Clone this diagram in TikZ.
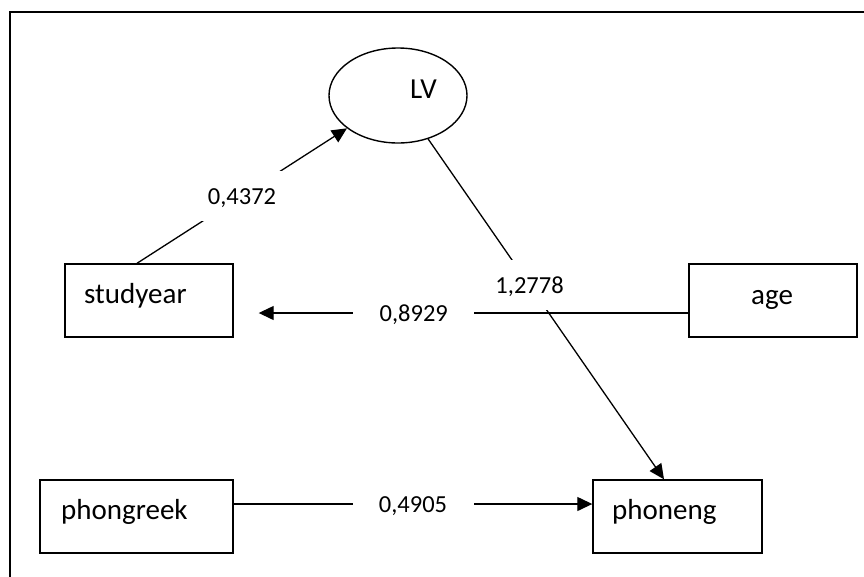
\documentclass[tikz,border=0pt]{standalone}
\usepackage{fontspec}
\setmainfont{Carlito}
\usetikzlibrary{arrows.meta,calc,shapes.geometric}
\begin{document}
\begin{tikzpicture}[x=1pt,y=-1pt,
  box/.style={draw, line width=1.4pt, minimum width=#1, minimum height=73pt, inner sep=0pt},
  oval/.style={ellipse, draw, line width=1.4pt, minimum width=138pt, minimum height=95pt, inner sep=0pt},
  txt/.style={anchor=base west, inner sep=0pt, font=\fontsize{29}{31}\selectfont},
  lab/.style={fill=white, minimum width=121pt, minimum height=50pt, inner sep=0pt, text height=17pt, text depth=0pt, font=\fontsize{24.5}{26}\selectfont},
  conn/.style={line width=1.3pt, -{Triangle[length=15pt,width=14pt]}}]
\useasboundingbox (0,0) rectangle (864,576);
\draw[line width=2pt] (10,577) -- (10,12) -- (865,12);

\node[oval] (LV) at (398,95.5) {};
\node[box=168pt] (studyear) at (149,300.5) {};
\node[box=168pt] (age) at (773,300.5) {};
\node[box=193pt] (phongreek) at (136.5,516.5) {};
\node[box=169pt] (phoneng) at (677.5,516.5) {};

\node[txt] (LVt) at (410,98) {LV};
\node[txt] (studyeart) at (84,303) {studyear};
\node[txt] (aget) at (751,304) {age};
\node[txt] (phongreekt) at (61,519) {phongreek};
\node[txt] (phonengt) at (612,519) {phoneng};

\draw[conn] ($(studyear.north)+(-12,0)$) -- (LV) node[lab,midway] (l1) {0,4372};
\draw[conn] (LV) -- ($(phoneng.north)+(-13.5,0)$) node[lab,pos=0.43] (l2) {1,2778};
\draw[conn] ($(age.west)+(0,12.5)$) -- ($(studyear.east)+(25,12.5)$) node[lab,pos=0.639] (l3) {0,8929};
\draw[conn] ($(phongreek.east)+(0,-12.5)$) -- ($(phoneng.west)+(0,-12.5)$) node[lab,midway] (l4) {0,4905};
\end{tikzpicture}
\end{document}
